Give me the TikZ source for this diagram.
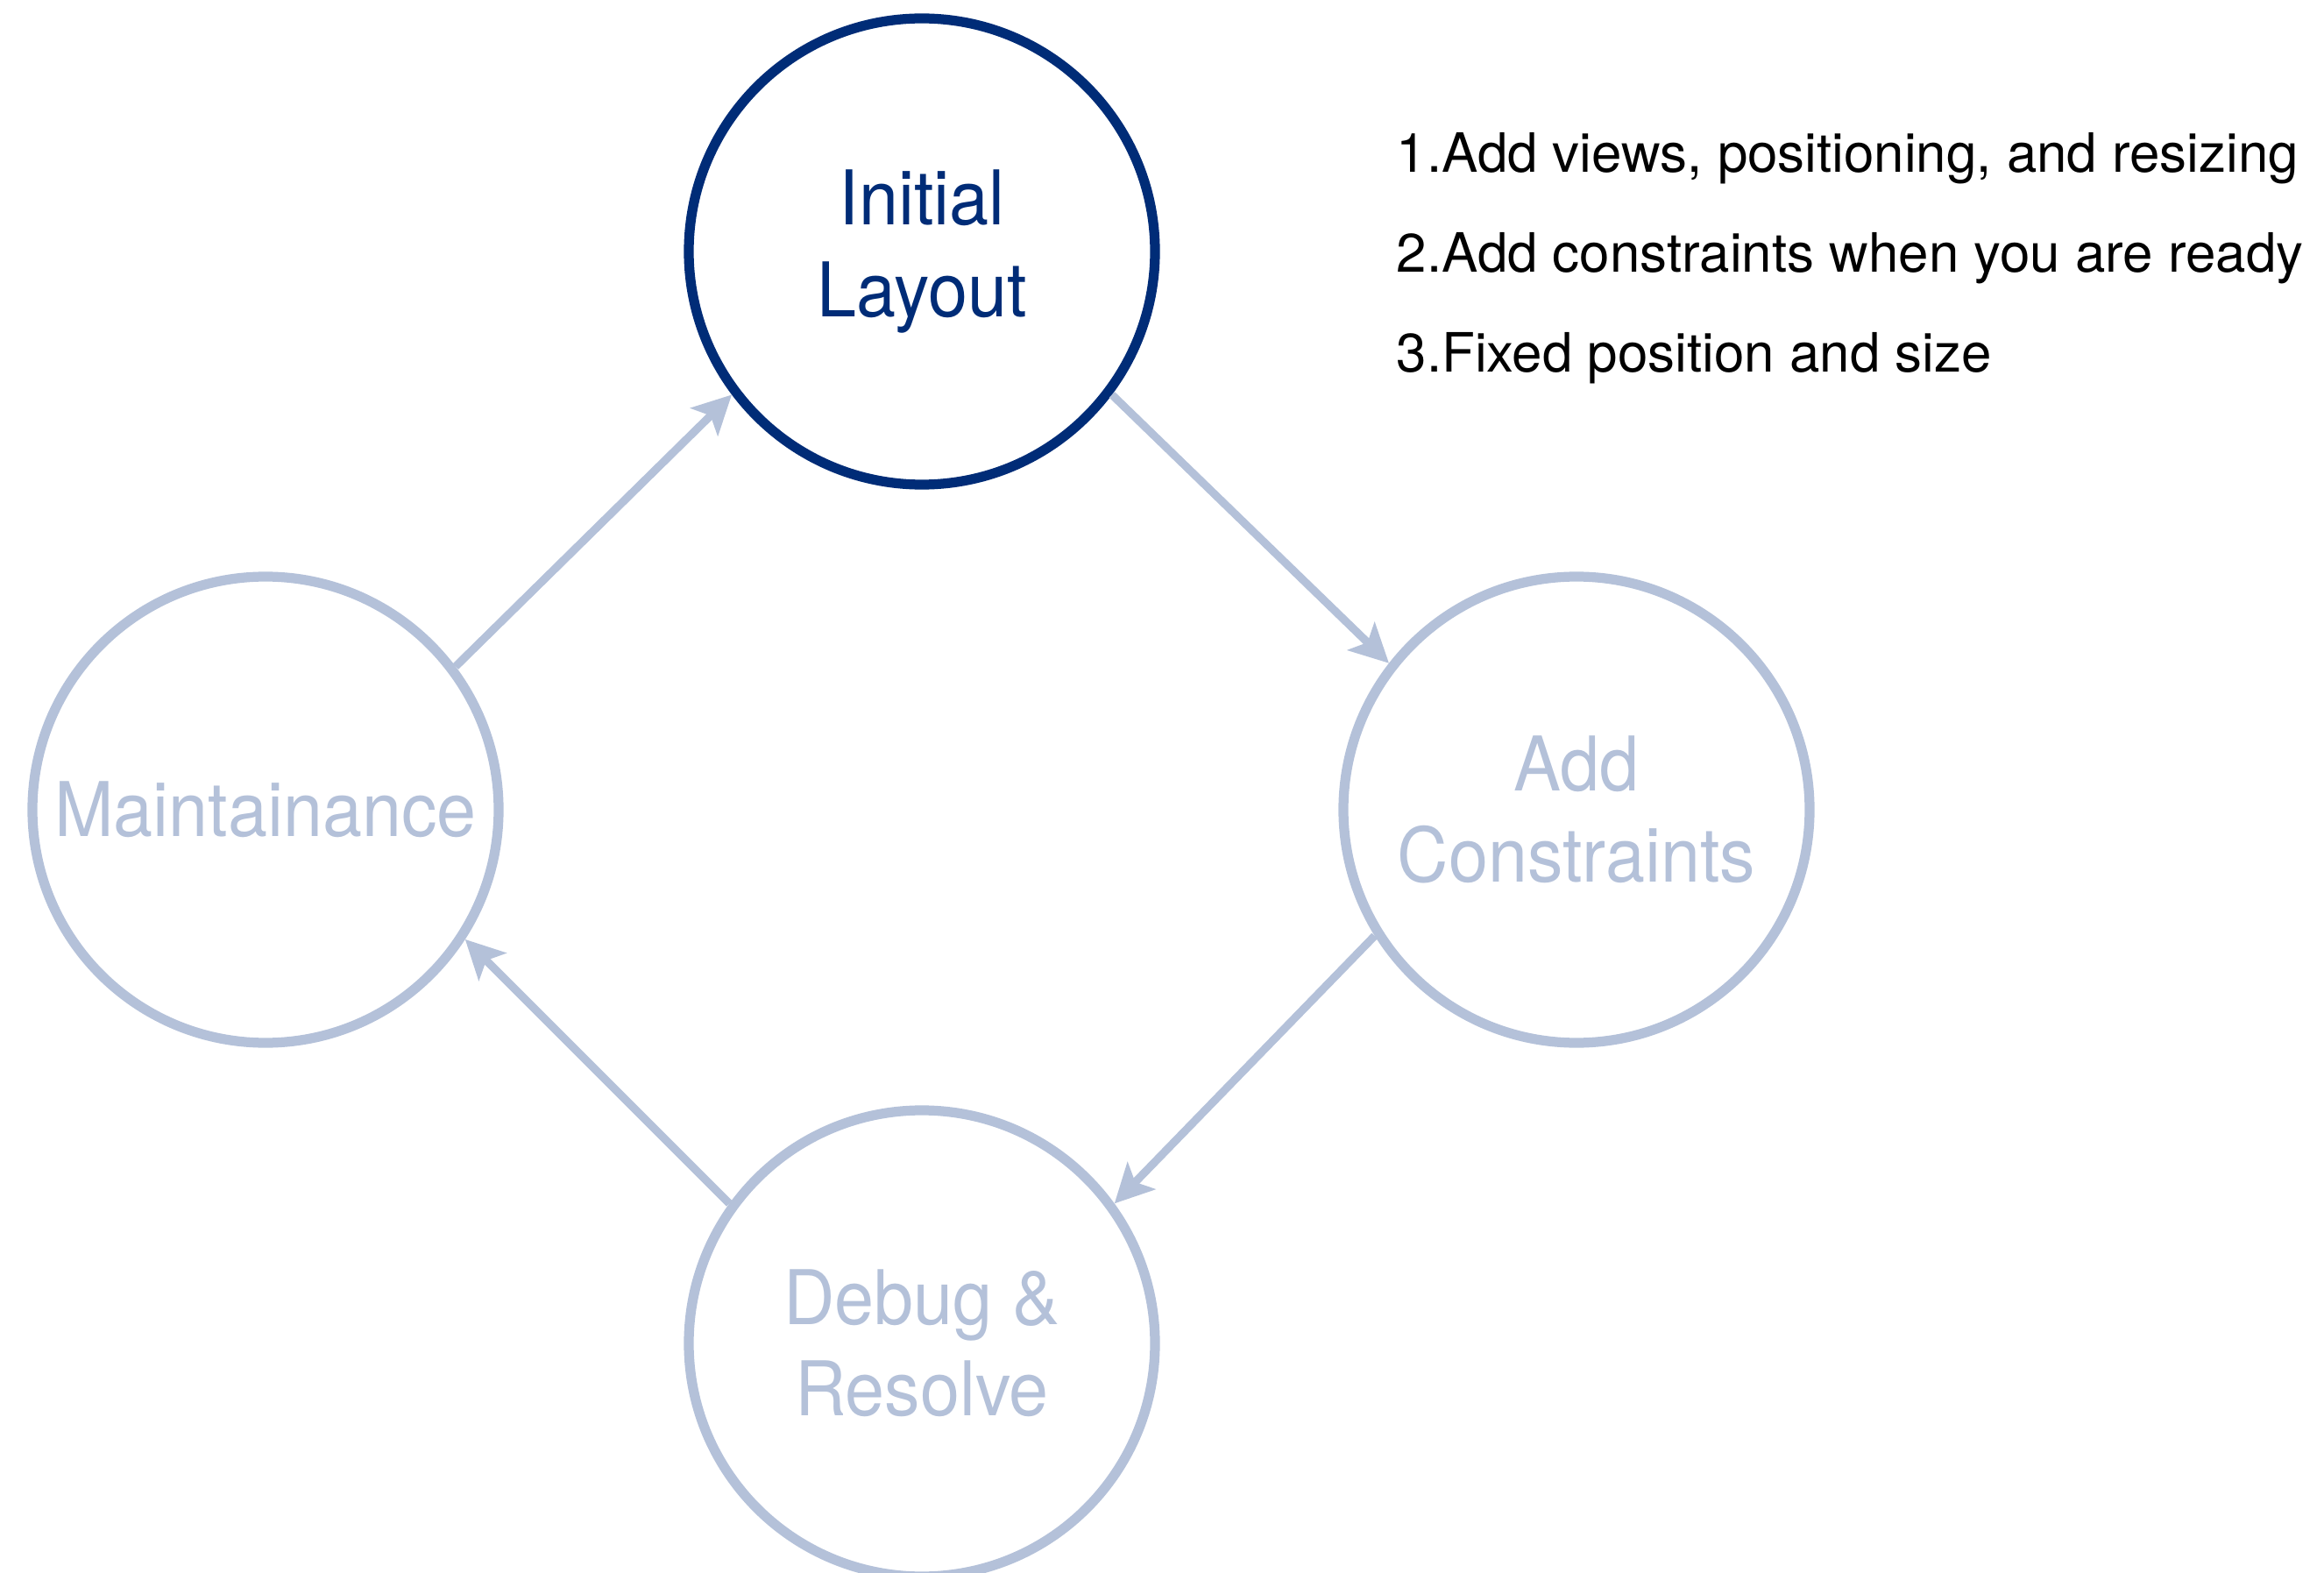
\documentclass[tikz,border=0pt]{standalone}
\usepackage{fontspec}
\setmainfont{TeX Gyre Heros}
\newfontfamily\stagefont[FakeStretch=0.94]{TeX Gyre Heros}
\usepackage{tikz}
\usetikzlibrary{arrows.meta,calc,positioning}
\definecolor{navy}{HTML}{002C77}
\definecolor{pale}{HTML}{B4C1D9}

\begin{document}
\begin{tikzpicture}[
    stage/.style={circle, draw=pale, line width=3.2pt, minimum size=5.32cm, inner sep=0pt,
      align=center, text=pale, font=\stagefont\fontsize{24.5}{29.6}\selectfont},
    current/.style={stage, draw=navy, text=navy},
    flow/.style={draw=pale, line width=2.6pt, -{Stealth[length=0.44cm, width=0.44cm, inset=0.1cm]}},
    note/.style={anchor=base west, inner sep=0pt, font=\fontsize{17.6}{21}\selectfont}]
    \useasboundingbox (0,0) rectangle (26.52,17.94);

    % Kreislauf
    \node[current] (init)  at (10.52,15.07) {Initial\\Layout};
    \node[stage]   (cons)  at (17.99,8.70)  {Add\\Constraints};
    \node[stage]   (debug) at (10.52,2.61)  {Debug \&\\Resolve};
    \node[stage]   (maint) at (3.03,8.70)   {Maintainance};

    % Pfeile
    \draw[flow] (maint.37)    -- (init.217);
    \draw[flow] (init.-37.5)  -- (cons.142.7);
    \draw[flow] (cons.212.7)  -- (debug.36.9);
    \draw[flow] (debug.144)   -- (maint.-33);

    % Schritte
    \foreach \i/\txt in {1/{Add views, positioning, and resizing},
                         2/{Add constraints when you are ready},
                         3/{Fixed position and size}}
        \node[note] (note\i) at (15.93,{15.97-1.14*(\i-1)}) {\i.\txt};
\end{tikzpicture}
\end{document}
